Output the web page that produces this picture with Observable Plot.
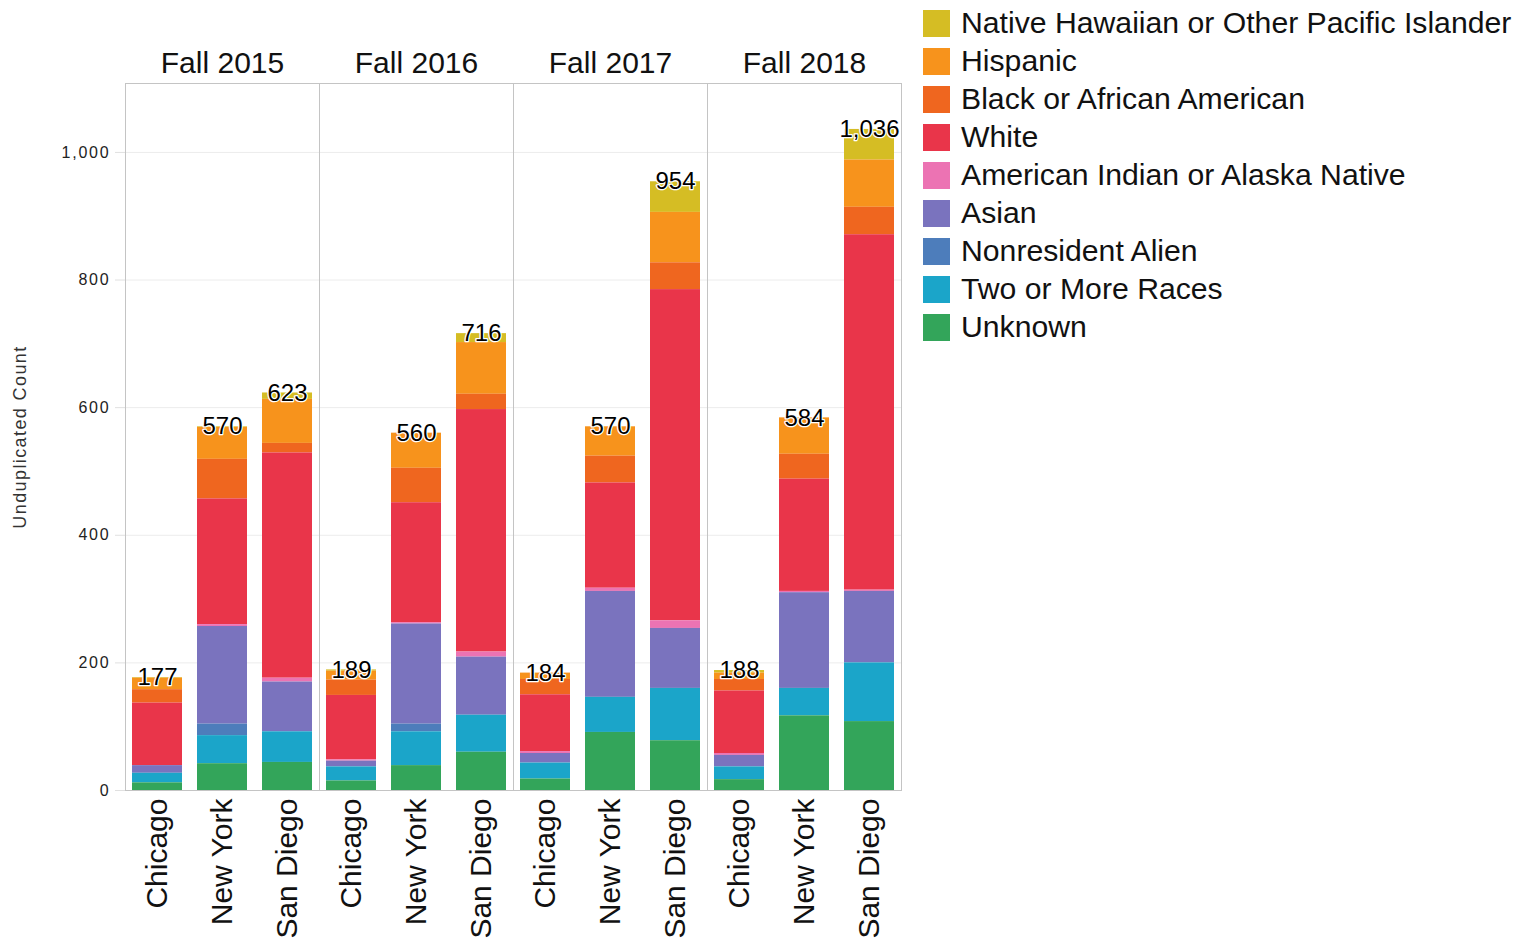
<!DOCTYPE html>
<html>
<head>
<meta charset="utf-8">
<script src="https://cdn.jsdelivr.net/npm/d3@7"></script>
<script src="https://cdn.jsdelivr.net/npm/@observablehq/plot@0.6"></script>
<style>
  html, body { margin: 0; padding: 0; background: #fff; }
  body { width: 1522px; height: 944px; position: relative; overflow: hidden; font-family: "Liberation Sans", Arial, sans-serif; }
  #chart { position: absolute; left: 0; top: 0; }
  #legend { position: absolute; left: 923px; top: 4px; }
  .row { display: flex; align-items: center; height: 38px; }
  .sw { width: 27px; height: 27px; margin-right: 11px; box-sizing: border-box; }
  .lab { font-size: 30.2px; color: #111; white-space: nowrap; }
  g[aria-label="y-axis tick label"] text { letter-spacing: 1.8px; fill: #222; }
  g[aria-label="y-axis label"] text { font-size: 18px; letter-spacing: 1.4px; fill: #333; }
</style>
</head>
<body>
<div id="chart"></div>
<div id="legend"></div>
<script>
// Facets, categories, series (legend order: top of stack first)
const years = ["Fall 2015", "Fall 2016", "Fall 2017", "Fall 2018"];
const cities = ["Chicago", "New York", "San Diego"];
const races = [
  "Native Hawaiian or Other Pacific Islander",
  "Hispanic",
  "Black or African American",
  "White",
  "American Indian or Alaska Native",
  "Asian",
  "Nonresident Alien",
  "Two or More Races",
  "Unknown"
];
const raceColors = ["#d5bd24", "#f7931c", "#ef661f", "#e9354a", "#ec73b3", "#7a73be", "#4d7dbb", "#1ba5c9", "#33a55a"];

// values per race: [2015 Chi, NY, SD, 2016 Chi, NY, SD, 2017 Chi, NY, SD, 2018 Chi, NY, SD]
const nhpi      = [1, 1, 10,   2, 0, 14,   0, 0, 48,   4, 0, 48];
const hispanic  = [18, 50, 69, 14, 55, 81, 10, 46, 79, 10, 57, 74];
const black     = [21, 62, 15, 24, 54, 24, 24, 42, 42, 18, 39, 43];
const white     = [98, 197, 353, 101, 188, 380, 89, 165, 519, 98, 176, 557];
const amIndian  = [0, 3, 6,    2, 2, 8,    3, 5, 12,   3, 2, 2];
const asian     = [12, 153, 78, 9, 157, 91, 15, 166, 94, 18, 150, 112];
const nonres    = [0, 18, 0,   0, 12, 0,   0, 0, 0,    0, 0, 0];
const twoOrMore = [15, 44, 48, 22, 53, 58, 25, 55, 82, 20, 43, 92];
const unknown   = [12, 42, 44, 15, 39, 60, 18, 91, 78, 17, 117, 108];
const seriesValues = [nhpi, hispanic, black, white, amIndian, asian, nonres, twoOrMore, unknown];

const yTicks = [0, 200, 400, 600, 800, 1000];

// long table
const data = [];
races.forEach((race, r) => {
  years.forEach((year, yi) => {
    cities.forEach((city, ci) => {
      data.push({year, city, race, value: seriesValues[r][yi * 3 + ci]});
    });
  });
});
const totals = [];
years.forEach(year => cities.forEach(city => {
  totals.push({year, city, total: d3.sum(data.filter(d => d.year === year && d.city === city), d => d.value)});
}));

const stackOrder = races.slice().reverse(); // bottom first
const fmt = d3.format(",");

const chart = Plot.plot({
  width: 910,
  height: 944,
  marginLeft: 123,
  marginRight: 8,
  marginTop: 83,
  marginBottom: 154,
  style: {fontFamily: "'Liberation Sans', Arial, sans-serif", color: "#111", background: "#fff"},
  fx: {domain: years, padding: 0},
  x: {domain: cities, paddingInner: 0.23, paddingOuter: 0.1},
  y: {domain: [0, 1108]},
  color: {domain: races, range: raceColors},
  marks: [
    Plot.gridY({ticks: yTicks.slice(1), stroke: "#ececec", strokeOpacity: 1}),
    Plot.barY(data, Plot.stackY({fx: "year", x: "city", y: "value", fill: "race", order: stackOrder})),
    Plot.frame({stroke: "#c4c4c4"}),
    Plot.text(totals, {fx: "year", x: "city", y: "total", text: d => fmt(d.total), fontSize: 24, lineAnchor: "middle", fill: "#000", stroke: "white", strokeWidth: 2.5}),
    Plot.axisY({ticks: yTicks, tickFormat: fmt, tickSize: 10, tickPadding: 5, stroke: "#e0e0e0", fontSize: 16, label: "Unduplicated Count", labelAnchor: "center", labelArrow: "none", labelOffset: 112}),
    Plot.axisX({tickRotate: -90, tickSize: 0, tickPadding: 8, fontSize: 30, label: null}),
    Plot.axisFx({anchor: "top", tickSize: 0, tickPadding: 11, fontSize: 30, label: null})
  ]
});
document.getElementById("chart").appendChild(chart);

// legend
const legend = document.getElementById("legend");
races.forEach((race, i) => {
  const row = document.createElement("div");
  row.className = "row";
  const sw = document.createElement("div");
  sw.className = "sw";
  sw.style.background = raceColors[i];
  const lab = document.createElement("div");
  lab.className = "lab";
  lab.textContent = race;
  row.appendChild(sw);
  row.appendChild(lab);
  legend.appendChild(row);
});
</script>
</body>
</html>
